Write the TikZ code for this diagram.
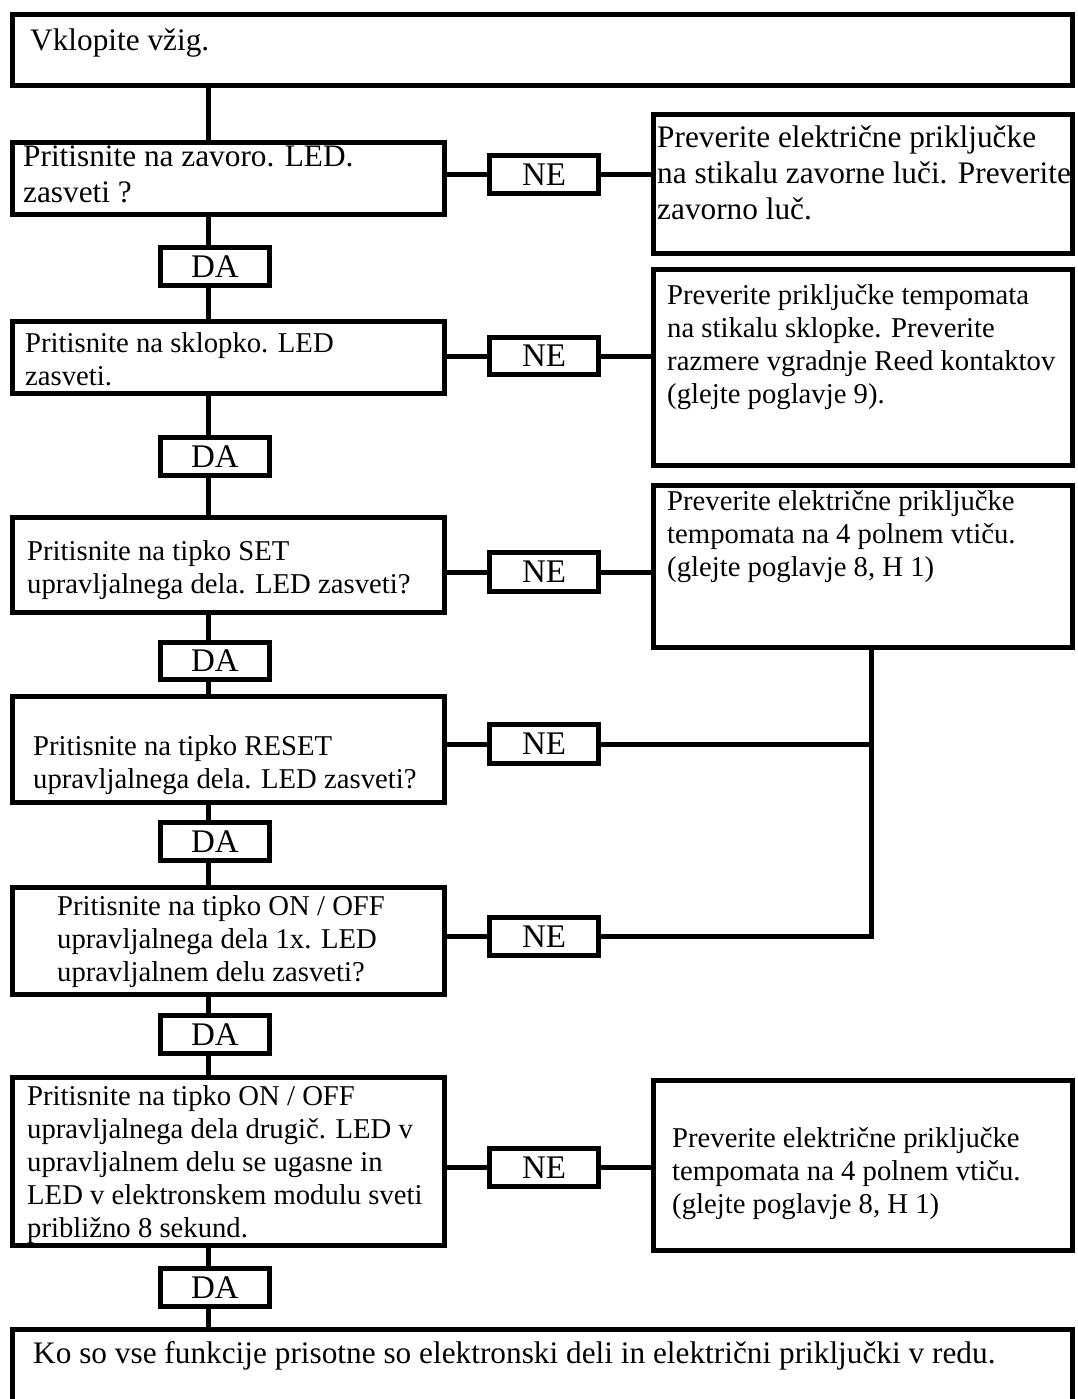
\documentclass[tikz,border=0pt]{standalone}
\usepackage{fontspec}
\setmainfont{Liberation Serif}
\begin{document}
\begin{tikzpicture}[x=1pt,y=-1pt,
  box/.style={draw,line width=5pt,inner sep=0pt,rectangle,fill=white},
  conn/.style={line width=5pt},
  lbl/.style={inner sep=0pt,font=\fontsize{33}{35}\selectfont},
  txt/.style={anchor=north west,inner sep=0pt,align=left,font=\fontsize{28.7}{33}\selectfont},
  bigtxt/.style={anchor=north west,inner sep=0pt,align=left,font=\fontsize{31.3}{36}\selectfont}]
\useasboundingbox (0,0) rectangle (1077,1399);
\fill[white] (0,0) rectangle (1077,1399);
\coordinate (vx) at (208,0);
\coordinate (vr) at (871,0);
% boxes
\node[box,minimum width=1060pt,minimum height=71pt] (top) at (542.5,50) {};
\node[box,minimum width=432pt,minimum height=72pt] (b1) at (228.5,178.5) {};
\node[box,minimum width=109pt,minimum height=38pt] (ne1) at (544,174.5) {};
\node[box,minimum width=419pt,minimum height=139pt] (r1) at (863,184) {};
\node[box,minimum width=109pt,minimum height=38pt] (da1) at (215,266.5) {};
\node[box,minimum width=432pt,minimum height=72pt] (b2) at (228.5,357.5) {};
\node[box,minimum width=109pt,minimum height=37pt] (ne2) at (544,356) {};
\node[box,minimum width=419pt,minimum height=196pt] (r2) at (863,367.5) {};
\node[box,minimum width=109pt,minimum height=38pt] (da2) at (215,456.5) {};
\node[box,minimum width=432pt,minimum height=95pt] (b3) at (228.5,565) {};
\node[box,minimum width=109pt,minimum height=39pt] (ne3) at (544,572) {};
\node[box,minimum width=419pt,minimum height=162pt] (r3) at (863,566.5) {};
\node[box,minimum width=109pt,minimum height=37pt] (da3) at (215,661) {};
\node[box,minimum width=432pt,minimum height=106pt] (b4) at (228.5,749.5) {};
\node[box,minimum width=109pt,minimum height=39pt] (ne4) at (544,744) {};
\node[box,minimum width=109pt,minimum height=38pt] (da4) at (215,841.5) {};
\node[box,minimum width=432pt,minimum height=107pt] (b5) at (228.5,941) {};
\node[box,minimum width=109pt,minimum height=38pt] (ne5) at (544,936.5) {};
\node[box,minimum width=109pt,minimum height=38pt] (da5) at (215,1034.5) {};
\node[box,minimum width=432pt,minimum height=168pt] (b6) at (228.5,1161.5) {};
\node[box,minimum width=109pt,minimum height=38pt] (ne6) at (544,1167.5) {};
\node[box,minimum width=419pt,minimum height=170pt] (r6) at (863,1165.5) {};
\node[box,minimum width=109pt,minimum height=38pt] (da6) at (215,1287.5) {};
\node[box,minimum width=1060pt,minimum height=120pt] (bot) at (542.5,1389.5) {};
% vertical trunk
\draw[conn] (top.south -| vx) -- (b1.north -| vx);
\draw[conn] (b1.south -| vx) -- (da1.north -| vx);
\draw[conn] (da1.south -| vx) -- (b2.north -| vx);
\draw[conn] (b2.south -| vx) -- (da2.north -| vx);
\draw[conn] (da2.south -| vx) -- (b3.north -| vx);
\draw[conn] (b3.south -| vx) -- (da3.north -| vx);
\draw[conn] (da3.south -| vx) -- (b4.north -| vx);
\draw[conn] (b4.south -| vx) -- (da4.north -| vx);
\draw[conn] (da4.south -| vx) -- (b5.north -| vx);
\draw[conn] (b5.south -| vx) -- (da5.north -| vx);
\draw[conn] (da5.south -| vx) -- (b6.north -| vx);
\draw[conn] (b6.south -| vx) -- (da6.north -| vx);
\draw[conn] (da6.south -| vx) -- (bot.north -| vx);
% horizontal NE branches
\draw[conn] (b1.east |- ne1.west) -- (ne1.west);
\draw[conn] (ne1.east) -- (r1.west |- ne1.east);
\draw[conn] (b2.east |- ne2.west) -- (ne2.west);
\draw[conn] (ne2.east) -- (r2.west |- ne2.east);
\draw[conn] (b3.east |- ne3.west) -- (ne3.west);
\draw[conn] (ne3.east) -- (r3.west |- ne3.east);
\draw[conn] (b4.east |- ne4.west) -- (ne4.west);
\draw[conn] (ne4.east) -- (ne4.east -| vr);
\draw[conn] (b5.east |- ne5.west) -- (ne5.west);
\draw[conn] (r3.south -| vr) -- (ne5.east -| vr) -- (ne5.east);
\draw[conn] (b6.east |- ne6.west) -- (ne6.west);
\draw[conn] (ne6.east) -- (r6.west |- ne6.east);
% labels
\node[lbl] (tne1) at (ne1.center) {NE};
\node[lbl] (tne2) at (ne2.center) {NE};
\node[lbl] (tne3) at (ne3.center) {NE};
\node[lbl] (tne4) at (ne4.center) {NE};
\node[lbl] (tne5) at (ne5.center) {NE};
\node[lbl] (tne6) at (ne6.center) {NE};
\node[lbl] (tda1) at (da1.center) {DA};
\node[lbl] (tda2) at (da2.center) {DA};
\node[lbl] (tda3) at (da3.center) {DA};
\node[lbl] (tda4) at (da4.center) {DA};
\node[lbl] (tda5) at (da5.center) {DA};
\node[lbl] (tda6) at (da6.center) {DA};
% texts
\node[bigtxt] (ttop) at (30,29) {Vklopite vžig.};
\node[bigtxt] (tb1) at (23,146) {Pritisnite na zavoro. LED.\\zasveti ?};
\node[bigtxt] (tr1) at (657,126) {Preverite električne priključke\\na stikalu zavorne luči. Preverite\\zavorno luč.};
\node[txt] (tb2) at (25,332) {Pritisnite na sklopko. LED\\zasveti.};
\node[txt] (tr2) at (667,284) {Preverite priključke tempomata\\na stikalu sklopke. Preverite\\razmere vgradnje Reed kontaktov\\(glejte poglavje 9).};
\node[txt] (tb3) at (27,540) {Pritisnite na tipko SET\\upravljalnega dela. LED zasveti?};
\node[txt] (tr3) at (667,490) {Preverite električne priključke\\tempomata na 4 polnem vtiču.\\(glejte poglavje 8, H 1)};
\node[txt] (tb4) at (33,735) {Pritisnite na tipko RESET\\upravljalnega dela. LED zasveti?};
\node[txt] (tb5) at (57,895) {Pritisnite na tipko ON / OFF\\upravljalnega dela 1x. LED\\upravljalnem delu zasveti?};
\node[txt] (tb6) at (27,1085) {Pritisnite na tipko ON / OFF\\upravljalnega dela drugič. LED v\\upravljalnem delu se ugasne in\\LED v elektronskem modulu sveti\\približno 8 sekund.};
\node[txt] (tr6) at (672,1127) {Preverite električne priključke\\tempomata na 4 polnem vtiču.\\(glejte poglavje 8, H 1)};
\node[bigtxt] (tbot) at (33,1341) {Ko so vse funkcije prisotne so elektronski deli in električni priključki v redu.};
\end{tikzpicture}
\end{document}
